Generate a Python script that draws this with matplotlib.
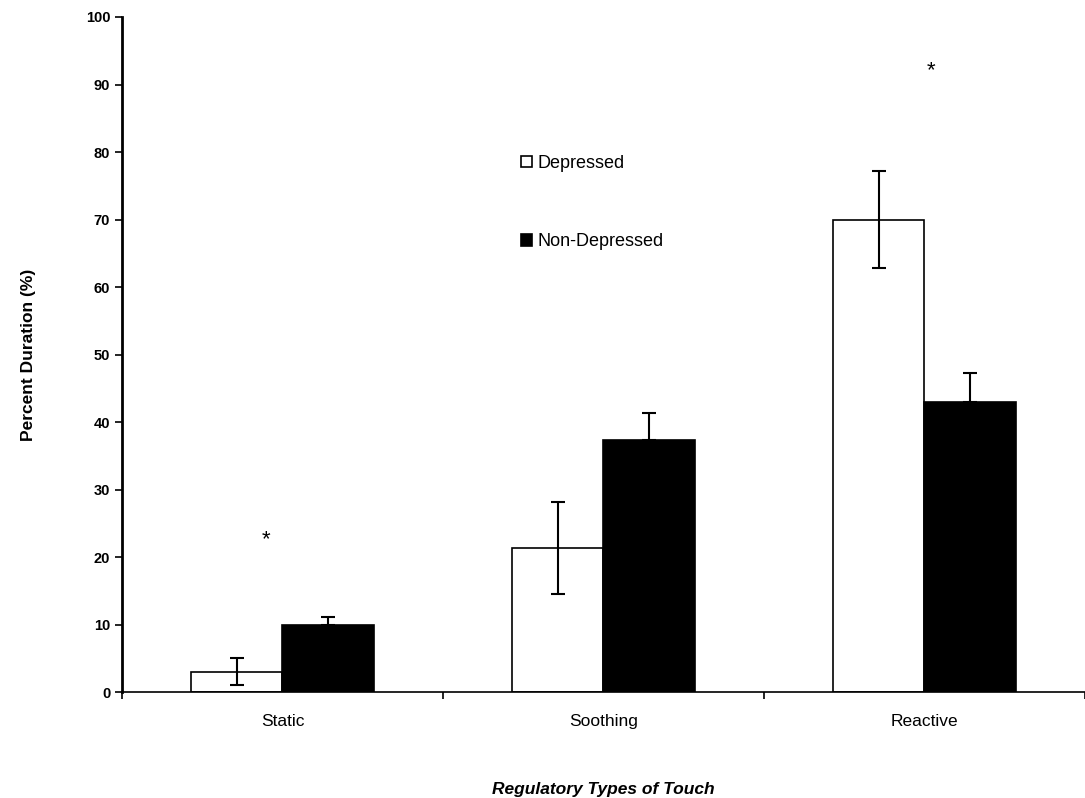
import numpy as np
import matplotlib.pyplot as plt

plt.rcParams['font.family'] = ['Liberation Sans', 'DejaVu Sans']

categories = ["Static", "Soothing", "Reactive"]
depressed = [3.0, 21.3, 70.0]
depressed_err = [2.0, 6.8, 7.2]
non_depressed = [9.9, 37.3, 43.0]
non_depressed_err = [1.2, 4.0, 4.2]
star_x = [-0.05, 2.02]
star_y = [22.5, 92.0]

fig = plt.figure(figsize=(10.85, 7.98), dpi=100)
ax = fig.add_axes([0.1124, 0.1328, 0.8876, 0.8459])

x = np.arange(len(categories))
w = 0.285
ax.bar(x - w / 2, depressed, w, color="white", edgecolor="black", linewidth=1.2,
       label="Depressed")
ax.bar(x + w / 2, non_depressed, w, color="black", edgecolor="black", linewidth=1.2,
       label="Non-Depressed")

# depressed bars show both sides of the error, non-depressed only the upper side
ax.errorbar(x - w / 2, depressed, yerr=depressed_err, fmt="none", ecolor="black",
            elinewidth=1.5, capsize=5, capthick=1.5)
ax.errorbar(x + w / 2, non_depressed, yerr=[[0] * 3, non_depressed_err], fmt="none",
            ecolor="black", elinewidth=1.5, capsize=5, capthick=1.5)

for sx, sy in zip(star_x, star_y):
    ax.text(sx, sy, "*", ha="center", va="center", fontsize=16)

ax.set_xlim(-0.5, 2.5)
ax.set_ylim(0, 100)
ax.set_yticks(np.arange(0, 101, 10))
ax.set_yticklabels([str(v) for v in range(0, 101, 10)], fontsize=10.5, fontweight="bold")
ax.set_xticks(x)
ax.set_xticklabels(categories, fontsize=12.5)
ax.set_xticks([-0.5, 0.5, 1.5, 2.5], minor=True)
ax.tick_params(axis="x", which="major", length=0, pad=16)
ax.tick_params(axis="x", which="minor", length=5, width=1.2, direction="out")
ax.tick_params(axis="y", length=5, width=1.2, direction="out")

for s in ["top", "right"]:
    ax.spines[s].set_visible(False)
ax.spines["left"].set_linewidth(2)
ax.spines["bottom"].set_linewidth(1.2)

ax.set_ylabel("Percent Duration (%)", fontsize=12.5, fontweight="bold", labelpad=36)
ax.set_xlabel("Regulatory Types of Touch", fontsize=12.5, fontweight="bold",
              style="italic", labelpad=38)

ax.legend(loc="upper left", bbox_to_anchor=(0.398, 0.82), frameon=False, fontsize=13,
          handlelength=0.6, handleheight=0.6, handletextpad=0.3, labelspacing=3.4)

fig.savefig("out.png", dpi=100)
